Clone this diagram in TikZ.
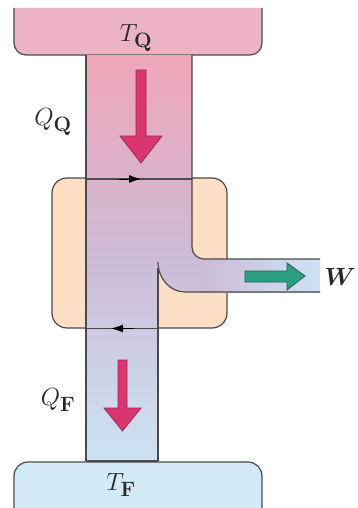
\documentclass[tikz,border=0pt]{standalone}
\usepackage{amsmath,amssymb,bm}
\usetikzlibrary{arrows.meta}
\definecolor{hotres}{HTML}{EBB3C4}
\definecolor{hotcol}{HTML}{F0A6B9}
\definecolor{midcol}{HTML}{CDBBD6}
\definecolor{coldcol}{HTML}{CCE3F3}
\definecolor{coldres}{HTML}{D3EAF7}
\definecolor{engine}{HTML}{FCDFC4}
\definecolor{edge}{HTML}{4A4A4A}
\definecolor{magarrow}{HTML}{D93670}
\definecolor{magedge}{HTML}{9A2C55}
\definecolor{grnarrow}{HTML}{2E9E82}
\definecolor{grnedge}{HTML}{1F5E50}
\tikzset{
  outline/.style={draw=edge, line width=1.2pt},
  lbl/.style={font=\Huge, inner sep=0pt, text=black!85},
  heatarrow/.style={fill=magarrow, draw=magedge, line width=0.8pt, line join=miter},
  workarrow/.style={fill=grnarrow, draw=grnedge, line width=0.8pt},
  cyctip/.style={-{Latex[length=12pt,width=8pt]}, draw=black, line width=1pt}
}
\begin{document}
\begin{tikzpicture}[x=1pt,y=-1pt]
\useasboundingbox (0,0) rectangle (357,508);
% top reservoir
\fill[hotres] (14,8) [rounded corners=12pt] -- (14,55) -- (262,55) [sharp corners] -- (262,8) -- cycle;
\draw[outline] (14,8) [rounded corners=12pt] -- (14,55) -- (262,55) [sharp corners] -- (262,8);
% bottom reservoir
\fill[coldres] (14,508) [rounded corners=14pt] -- (14,462) -- (262,462) [sharp corners] -- (262,508) -- cycle;
\draw[outline] (14,508) [rounded corners=14pt] -- (14,462) -- (262,462) [sharp corners] -- (262,508);
% engine
\draw[outline, fill=engine, rounded corners=15pt] (52,178) rectangle (227,328);
% flow region
\shade[top color=hotcol, bottom color=coldcol, middle color=midcol]
  (86,55) -- (192,55) [rounded corners=12pt] -- (192,259) [sharp corners] -- (320,259) -- (320,292) -- (185,292)
  .. controls (170.1,292) and (158,278.6) .. (158,262) -- (158,461) -- (86,461) -- cycle;
\shade[left color=midcol, right color=coldcol]
  (200,259) -- (320,259) -- (320,292) -- (200,292) -- cycle;
% flow lines
\draw[outline] (86,55) -- (86,461);
\draw[outline] (192,55) [rounded corners=12pt] -- (192,259) [sharp corners] -- (320,259);
\draw[outline] (320,292) -- (185,292) .. controls (170.1,292) and (158,278.6) .. (158,262);
\draw[outline] (158,268) -- (158,461);
\draw[outline] (86,179) -- (192,179);
\draw[outline] (86,328.5) -- (158,328.5);
\draw[outline] (86,461) -- (158,461);
\draw[cyctip] (118,179) -- (141,179);
\draw[cyctip] (134,328.5) -- (111,328.5);
% heat arrows
\draw[heatarrow] (136,70) -- (146,70) -- (146,136) -- (162,136) -- (141,163) -- (120,136) -- (136,136) -- cycle;
\draw[heatarrow] (118,360) -- (127,360) -- (127,408) -- (141,408) -- (122.5,431) -- (104,408) -- (118,408) -- cycle;
% work arrow
\draw[workarrow] (245,271) -- (287,271) -- (287,263) -- (305,276) -- (287,290) -- (287,282) -- (245,282) -- cycle;
% labels
\node[lbl] (tq) at (136,38) {$T_{\mathbf{Q}}$};
\node[lbl] (qq) at (53,122) {$Q_{\mathbf{Q}}$};
\node[lbl, anchor=east] (w) at (356,277) {$\bm{W}$};
\node[lbl] (qf) at (58,400) {$Q_{\mathbf{F}}$};
\node[lbl] (tf) at (121,485) {$T_{\mathbf{F}}$};
\end{tikzpicture}
\end{document}
